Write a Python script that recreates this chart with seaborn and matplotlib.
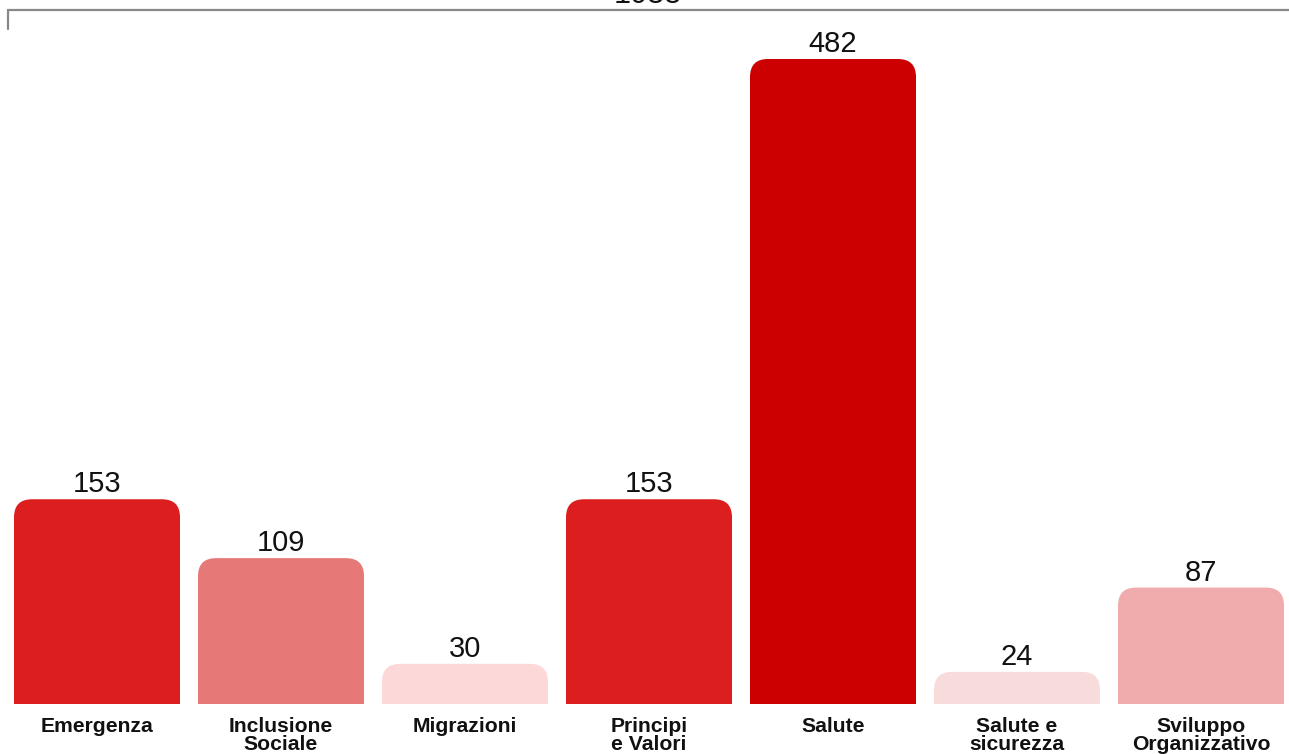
import matplotlib
matplotlib.use("Agg")
import matplotlib.pyplot as plt
import seaborn as sns
import pandas as pd
from matplotlib.patches import FancyBboxPatch
from matplotlib.lines import Line2D

categories = ["Emergenza", "Inclusione\nSociale", "Migrazioni", "Principi\ne Valori",
              "Salute", "Salute e\nsicurezza", "Sviluppo\nOrganizzativo"]
values = [153, 109, 30, 153, 482, 24, 87]
colors = ["#DC1E1E", "#E67878", "#FDD8D8", "#DC1E1E", "#CC0000", "#F8DCDC", "#F0ACAC"]
total_label = "1038"

sns.set_theme(style="white")
plt.rcParams["font.family"] = ["Liberation Sans", "DejaVu Sans"]

df = pd.DataFrame({"cat": categories, "n": values})

W, H = 1289, 754
fig = plt.figure(figsize=(W / 100, H / 100), dpi=100)
ax = fig.add_axes([5 / W, 50 / H, 1288 / W, 704 / H])

sns.barplot(data=df, x="cat", y="n", hue="cat", palette=dict(zip(categories, colors)),
            width=166 / 184, saturation=1, legend=False, ax=ax)

ax.set_xlim(-0.5, 6.5)
ymax = 704 / (645 / 482)
ax.set_ylim(0, ymax)

# rounded tops: swap each rectangle for a fancy box that dips below the axis
x_per_px = 7 / 1288
y_per_px = ymax / 704
r_px = 18
for p in list(ax.patches):
    x, w, h = p.get_x(), p.get_width(), p.get_height()
    fc = p.get_facecolor()
    p.remove()
    extra = 2 * r_px * y_per_px
    rb = FancyBboxPatch((x, -extra), w, h + extra,
                        boxstyle=f"round,pad=0,rounding_size={r_px * x_per_px}",
                        mutation_aspect=y_per_px / x_per_px, fc=fc, ec="none")
    ax.add_patch(rb)

for i, v in enumerate(values):
    ax.text(i, v + 7 * y_per_px, str(v), ha="center", va="baseline", fontsize=21, color="#111111")

ax.set_xlabel("")
ax.set_ylabel("")
ax.set_yticks([])
ax.tick_params(axis="x", length=0, pad=9.5)
for lab in ax.get_xticklabels():
    lab.set_fontsize(15.2)
    lab.set_fontweight("bold")
    lab.set_color("#111111")
    lab.set_linespacing(0.92)
sns.despine(ax=ax, left=True, bottom=True)

# bracket on top and total
fig.add_artist(Line2D([8 / W, 1], [1 - 10 / H, 1 - 10 / H], transform=fig.transFigure,
                      color="#888888", lw=1.6))
fig.add_artist(Line2D([8 / W, 8 / W], [1 - 10 / H, 1 - 29 / H], transform=fig.transFigure,
                      color="#888888", lw=1.6))
fig.text(648 / W, 1 - 3 / H, total_label, ha="center", va="baseline", fontsize=22, color="#111111")

fig.savefig("out.png", dpi=100)
